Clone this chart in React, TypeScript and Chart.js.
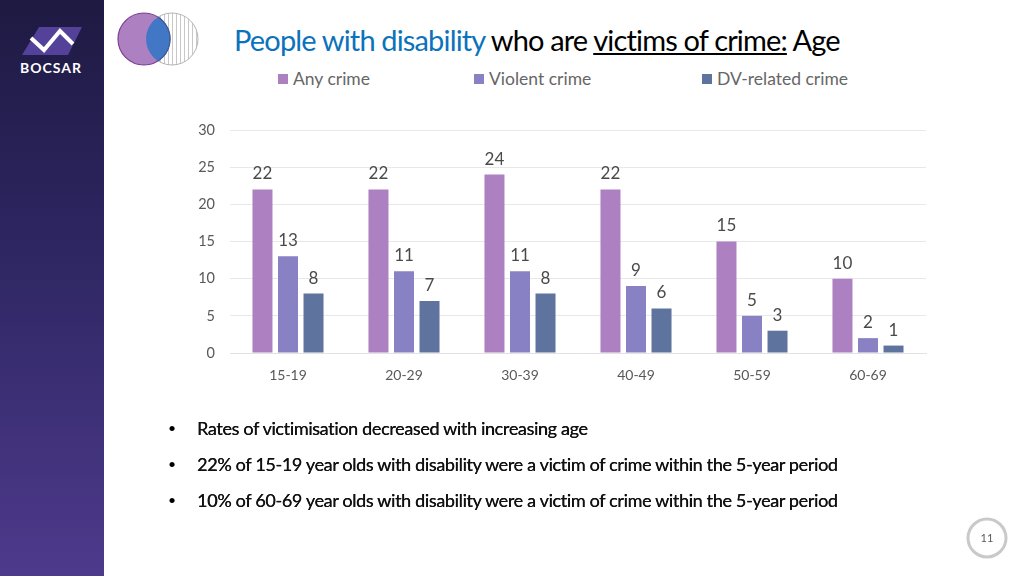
import React, { useEffect, useRef } from "react";
import { Chart, registerables } from "chart.js";

Chart.register(...registerables);

const categories = ["15-19", "20-29", "30-39", "40-49", "50-59", "60-69"];
const anyCrime = [22, 22, 24, 22, 15, 10];
const violentCrime = [13, 11, 11, 9, 5, 2];
const dvCrime = [8, 7, 8, 6, 3, 1];
const seriesNames = ["Any crime", "Violent crime", "DV-related crime"];
const seriesColors = ["#AC80C1", "#8882C5", "#5F739F"];
const legendLefts = [278, 474, 702];
const bullets = [
  "Rates of victimisation decreased with increasing age",
  "22% of 15-19 year olds with disability were a victim of crime within the 5-year period",
  "10% of 60-69 year olds with disability were a victim of crime within the 5-year period",
];
const bulletTops = [428, 464, 500];
const FONT = "Lato, 'Noto Sans', sans-serif";

const valueLabels = {
  id: "valueLabels",
  afterDatasetsDraw(chart: any) {
    const { ctx } = chart;
    ctx.save();
    ctx.font = `17px ${FONT}`;
    ctx.fillStyle = "#4A4A4A";
    ctx.textAlign = "center";
    ctx.textBaseline = "middle";
    chart.data.datasets.forEach((ds: any, i: number) => {
      chart.getDatasetMeta(i).data.forEach((bar: any, j: number) => {
        ctx.fillText(String(ds.data[j]), bar.x, bar.y - 15.5);
      });
    });
    ctx.restore();
  },
};

export default function App() {
  const ref = useRef<HTMLCanvasElement>(null);
  useEffect(() => {
    document.body.style.margin = "0";
    const chart = new Chart(ref.current!, {
      type: "bar",
      data: {
        labels: categories,
        datasets: [anyCrime, violentCrime, dvCrime].map((data, i) => ({
          label: seriesNames[i],
          data,
          backgroundColor: seriesColors[i],
          categoryPercentage: 0.66,
          barPercentage: 0.784,
        })),
      },
      options: {
        responsive: false,
        animation: false,
        layout: { padding: { left: 190, right: 98, top: 130, bottom: 183 } },
        plugins: { legend: { display: false }, title: { display: false }, tooltip: { enabled: false } },
        scales: {
          x: {
            grid: { display: false },
            border: { color: "#E2E2E2" },
            afterFit: (s: any) => { s.height = 40; },
            ticks: { font: { family: FONT, size: 14 }, color: "#595959", padding: 6, maxRotation: 0 },
          },
          y: {
            min: 0,
            max: 30,
            afterFit: (s: any) => { s.width = 40; },
            grid: { color: "#E8E8E8", drawTicks: false },
            border: { display: false },
            ticks: { stepSize: 5, font: { family: FONT, size: 14.5 }, color: "#595959", padding: 15 },
          },
        },
      },
      plugins: [valueLabels],
    } as any);
    return () => chart.destroy();
  }, []);

  const text = (extra: React.CSSProperties): React.CSSProperties => ({
    position: "absolute",
    fontFamily: FONT,
    whiteSpace: "nowrap",
    ...extra,
  });

  return (
    <div style={{ position: "relative", width: 1024, height: 576, overflow: "hidden", background: "#fff" }}>
      <div style={{ position: "absolute", left: 0, top: 0, width: 104, height: 576, background: "linear-gradient(180deg,#1E1A42 0%,#2C2560 40%,#4E3A8C 100%)" }} />
      <svg width={104} height={90} style={{ position: "absolute", left: 0, top: 0 }}>
        <polygon points="39,27 82,27 68,55 22,55" fill="#53419A" />
        <polyline points="31,38 44,50 60,31 73,44" fill="none" stroke="#fff" strokeWidth={4} />
      </svg>
      <div style={text({ left: 20, top: 59, fontSize: 14, fontWeight: 700, color: "#fff", letterSpacing: 1 })}>BOCSAR</div>
      <svg width={90} height={64} style={{ position: "absolute", left: 112, top: 7 }}>
        <defs>
          <pattern id="hatch" width="4" height="4" patternUnits="userSpaceOnUse">
            <rect width="4" height="4" fill="#fff" />
            <rect width="1" height="4" fill="#C8C8C8" />
          </pattern>
          <clipPath id="lens"><circle cx="60" cy="32" r="26" /></clipPath>
        </defs>
        <circle cx="60" cy="32" r="26" fill="url(#hatch)" stroke="#B4B4B4" strokeWidth={1} />
        <circle cx="32" cy="32" r="26" fill="#AC80C1" stroke="#7A3E96" strokeWidth={1.2} />
        <circle cx="32" cy="32" r="26" fill="#4177C4" stroke="#3A5E96" strokeWidth={1.2} clipPath="url(#lens)" />
      </svg>
      <div style={text({ left: 234, top: 22, fontSize: 29, lineHeight: "36px", letterSpacing: -0.84, color: "#000" })}>
        <span style={{ color: "#0B72BC" }}>People with disability</span> who are{" "}
        <span style={{ textDecoration: "underline" }}>victims of crime:</span> Age
      </div>
      {seriesNames.map((name, i) => (
        <React.Fragment key={name}>
          <div style={{ position: "absolute", left: legendLefts[i], top: 74, width: 10, height: 10, background: seriesColors[i] }} />
          <div style={text({ left: legendLefts[i] + 15, top: 68, fontSize: 17.5, lineHeight: "22px", color: "#666" })}>{name}</div>
        </React.Fragment>
      ))}
      <canvas ref={ref} width={1024} height={576} style={{ position: "absolute", left: 0, top: 0 }} />
      {bullets.map((b, i) => (
        <React.Fragment key={b}>
          <div style={text({ left: 168, top: bulletTops[i] - 12, fontSize: 14, lineHeight: "24px", color: "#000" })}>•</div>
          <div style={text({ left: 197, top: bulletTops[i] - 12, fontSize: 18, lineHeight: "24px", color: "#111", letterSpacing: -0.34, textShadow: "0.3px 0 0 #111" })}>{b}</div>
        </React.Fragment>
      ))}
      <svg width={44} height={44} style={{ position: "absolute", left: 965, top: 516 }}>
        <circle cx="22" cy="22" r="19" fill="#fff" stroke="#C9C9C9" strokeWidth={3} />
      </svg>
      <div style={text({ left: 965, top: 530, width: 44, textAlign: "center", fontSize: 11, lineHeight: "16px", color: "#595959" })}>11</div>
    </div>
  );
}
